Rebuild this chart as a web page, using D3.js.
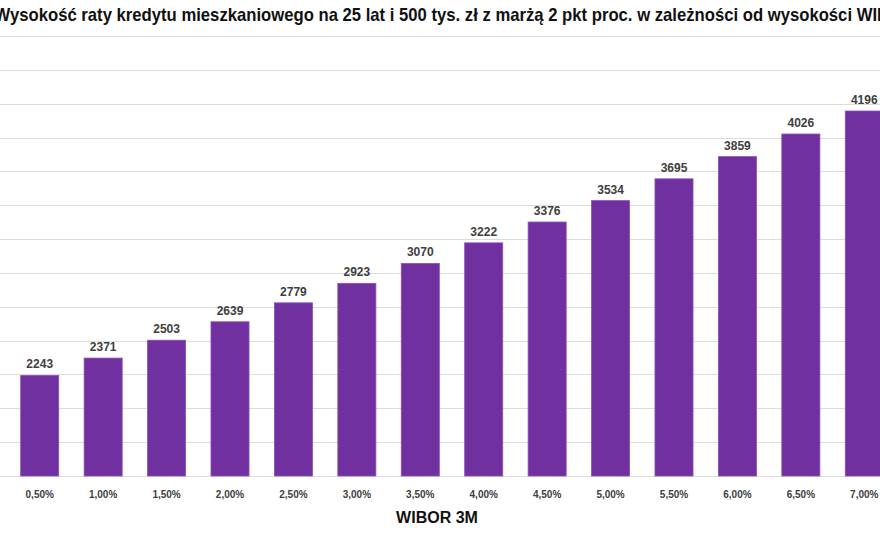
<!DOCTYPE html>
<html>
<head>
<meta charset="utf-8">
<script src="https://cdn.jsdelivr.net/npm/d3@7"></script>
<style>
  body { margin: 0; background: #fff; }
  text { font-family: "Liberation Sans", Arial, sans-serif; }
</style>
</head>
<body>
<div id="chart"></div>
<script>
// rates (WIBOR 3M) and monthly installment in zl
const categories = ["0,50%", "1,00%", "1,50%", "2,00%", "2,50%", "3,00%", "3,50%",
                    "4,00%", "4,50%", "5,00%", "5,50%", "6,00%", "6,50%", "7,00%"];
const values = [2243, 2371, 2503, 2639, 2779, 2923, 3070, 3222, 3376, 3534, 3695, 3859, 4026, 4196];
const yTicks = [1500, 1750, 2000, 2250, 2500, 2750, 3000, 3250, 3500, 3750, 4000, 4250, 4500, 4750];
const titleText = "Wysokość raty kredytu mieszkaniowego na 25 lat i 500 tys. zł z marżą 2 pkt proc. w zależności od wysokości WIBOR 3M";
const axisTitle = "WIBOR 3M";

const width = 880, height = 540;

let svg = d3.select("#chart")
    .append("svg")
    .attr("width", width)
    .attr("height", height);

let x = d3.scaleBand()
    .domain(categories)
    .range([8, 896])
    .paddingInner(0.4)
    .paddingOuter(0.2);

let y = d3.scaleLinear()
    .domain([1500, 4750])
    .range([476, 36]);

//gridlines
svg.append("g")
    .selectAll("line")
    .data(yTicks)
    .enter()
    .append("line")
    .attr("x1", 0)
    .attr("x2", width)
    .attr("y1", d => Math.round(y(d)) + 0.5)
    .attr("y2", d => Math.round(y(d)) + 0.5)
    .attr("stroke", "#dcdcdc")
    .attr("stroke-width", 1);

//bars
svg.append("g")
    .selectAll("rect")
    .data(values)
    .enter()
    .append("rect")
    .attr("x", (d, i) => x(categories[i]))
    .attr("y", d => y(d))
    .attr("width", x.bandwidth())
    .attr("height", d => y(1500) - y(d))
    .attr("fill", "#7030a0")
    .attr("stroke", "#8a4fbb")
    .attr("stroke-width", 0.8);

//value labels
svg.append("g")
    .selectAll("text")
    .data(values)
    .enter()
    .append("text")
    .attr("x", (d, i) => x(categories[i]) + x.bandwidth() / 2)
    .attr("y", d => y(d) - 7)
    .attr("text-anchor", "middle")
    .style("font-size", "12px")
    .style("font-weight", "bold")
    .style("fill", "#404040")
    .text(d => d);

//x axis
let xAxis = svg.append("g")
    .attr("transform", "translate(0, 476)")
    .call(d3.axisBottom(x).tickSize(0).tickPadding(15));
xAxis.select(".domain").remove();
xAxis.selectAll("text")
    .style("font-family", "'Liberation Sans', Arial, sans-serif")
    .style("font-size", "10px")
    .style("font-weight", "bold")
    .style("fill", "#404040");

//axis title
svg.append("text")
    .attr("x", 437)
    .attr("y", 523)
    .attr("text-anchor", "middle")
    .style("font-size", "16px")
    .style("font-weight", "bold")
    .style("fill", "#111")
    .text(axisTitle);

//chart title (cropped at both sides in the original)
let title = svg.append("text")
    .attr("y", 21)
    .style("font-size", "19px")
    .style("font-weight", "bold")
    .style("fill", "#111")
    .text(titleText);

let node = title.node();
let total = node.getComputedTextLength();
let s1 = node.getSubStringLength(0, 1);
let endIdx = titleText.indexOf("WIBOR") + 2;
let e = node.getSubStringLength(0, endIdx);
let k = (877 - 10) / (e - s1);
title.attr("x", 10 - s1 * k)
    .attr("textLength", total * k)
    .attr("lengthAdjust", "spacingAndGlyphs");
</script>
</body>
</html>
